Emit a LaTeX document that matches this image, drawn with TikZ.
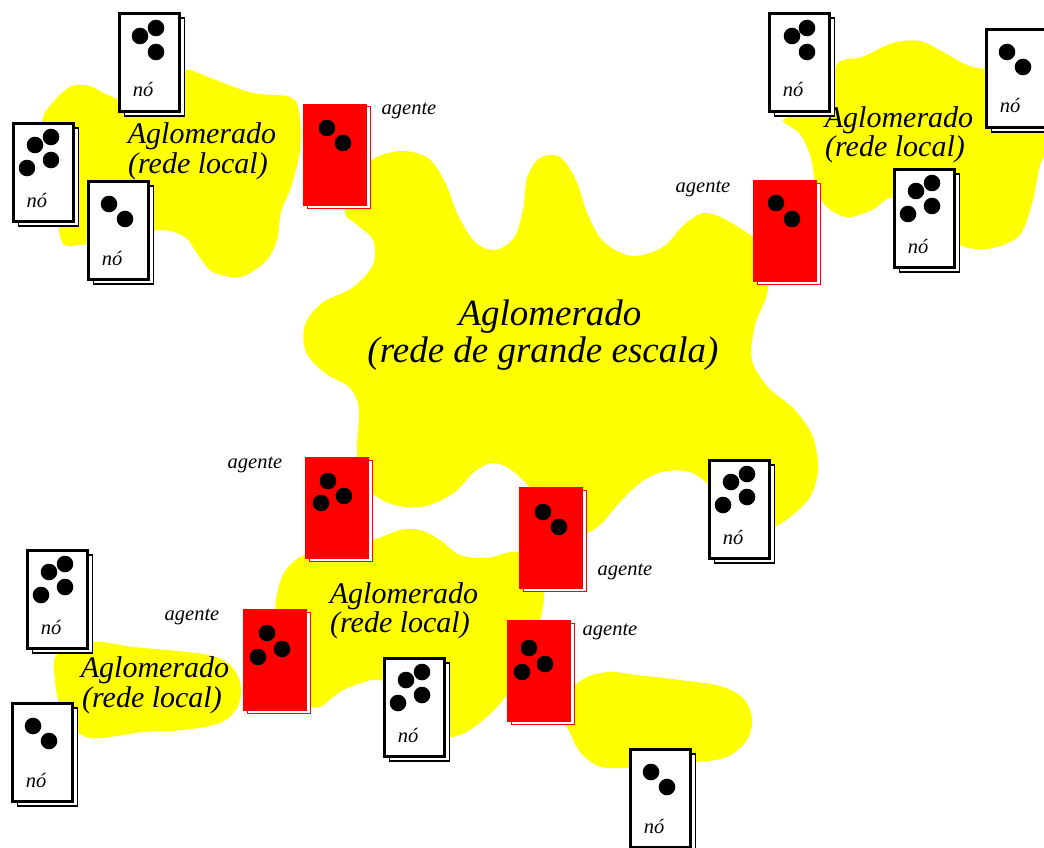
\documentclass[tikz,border=0pt]{standalone}
\usepackage{fontspec}
\setmainfont{Liberation Serif}
\usetikzlibrary{calc,shadows}
\definecolor{blobyellow}{RGB}{255,255,0}
\definecolor{agred}{RGB}{255,0,0}
\tikzset{
  blob/.style={fill=blobyellow, draw=none},
  nocard/.style={anchor=north west, draw=black, fill=white, line width=3.3pt,
    minimum width=59.7pt, minimum height=97.7pt, inner sep=0pt,
    copy shadow={shadow xshift=5pt, shadow yshift=-4.5pt, fill=white, draw=black, line width=1.4pt}},
  agcard/.style={anchor=north west, draw=agred, fill=agred, line width=0.8pt,
    minimum width=63.2pt, minimum height=101.2pt, inner sep=0pt,
    copy shadow={shadow xshift=3.5pt, shadow yshift=-2.5pt, fill=white, draw=agred, line width=0.8pt}},
  small/.style={font=\fontsize{20.5}{20.5}\selectfont\itshape, anchor=base, inner sep=0pt},
  cl/.style={font=\fontsize{30}{30}\selectfont\itshape, anchor=base, inner sep=0pt},
  big/.style={font=\fontsize{37}{37}\selectfont\itshape, anchor=base, inner sep=0pt},
  dot/.style={fill=black},
}
\newcommand\nodecard[4]{%
  \node[nocard] (#1) at (#2,#3) {};
  \foreach \ddx/\ddy in {#4} {\fill[dot] ($(#1.north west)+(\ddx,\ddy)$) circle[radius=8.3pt];}
  \node[small] (#1lbl) at ($(#1.north west)+(25,85)$) {nó};}
\newcommand\agentcard[4]{%
  \node[agcard] (#1) at (#2,#3) {};
  \foreach \ddx/\ddy in {#4} {\fill[dot] ($(#1.north west)+(\ddx,\ddy)$) circle[radius=8.3pt];}}
\begin{document}
\begin{tikzpicture}[x=1pt,y=-1pt]
\useasboundingbox (0,0) rectangle (1044,848);
% blobs
\fill[blob] plot[smooth cycle, tension=0.55] coordinates {(42,122) (55,100) (72,86) (90,86) (108,95) (130,100) (165,80) (187,70) (213,79) (253,93) (290,97) (299,112) (300,150) (291,187) (281,212) (277,240) (265,262) (240,277) (213,272) (198,255) (185,237) (160,230) (120,238) (80,245) (62,242) (55,200) (50,160)};
\fill[blob] plot[smooth cycle, tension=0.55] coordinates {(345,212) (355,178) (375,158) (402,151) (428,158) (445,182) (458,215) (475,242) (495,250) (514,238) (523,210) (527,178) (540,158) (560,157) (576,180) (588,215) (604,242) (632,256) (663,247) (685,224) (706,213) (735,225) (765,250) (768,290) (755,325) (752,360) (768,387) (795,410) (813,437) (818,470) (810,497) (790,517) (770,527) (740,515) (715,490) (690,472) (662,472) (640,483) (620,502) (600,525) (583,532) (555,510) (530,487) (510,469) (492,463) (474,472) (455,492) (430,505) (405,507) (380,499) (363,480) (357,450) (359,410) (350,388) (325,373) (306,352) (305,325) (322,303) (352,288) (373,265) (373,240) (356,224)};
\fill[blob] plot[smooth cycle, tension=0.55] coordinates {(783,120) (800,134) (811,158) (816,188) (828,208) (848,217) (872,210) (895,198) (930,230) (962,246) (985,249) (1006,244) (1022,232) (1033,200) (1040,165) (1050,140) (1050,75) (985,69) (965,64) (943,52) (920,41) (893,43) (862,57) (838,63) (828,95) (805,112)};
\fill[blob] plot[smooth cycle, tension=0.55] coordinates {(57,655) (93,642) (133,647) (177,651) (213,656) (233,668) (241,688) (237,708) (220,723) (183,730) (143,732) (110,737) (90,738) (73,729) (60,707) (55,680)};
\fill[blob] plot[smooth cycle, tension=0.55] coordinates {(276,600) (284,573) (302,556) (335,547) (373,540) (400,530) (420,530) (440,540) (460,555) (487,558) (517,552) (538,572) (544,598) (537,630) (520,675) (497,707) (470,730) (450,737) (430,731) (410,720) (383,681) (350,687) (333,697) (320,707) (305,703) (285,670) (276,630)};
\fill[blob] plot[smooth cycle, tension=0.55] coordinates {(560,700) (585,678) (610,672) (637,675) (680,680) (720,686) (743,698) (752,718) (747,740) (727,757) (697,762) (650,766) (620,768) (598,766) (580,752) (570,733) (562,715)};
% cluster labels
\node[cl] (tla) at (202,143) {Aglomerado};
\node[cl] (tlb) at (198,173) {(rede local)};
\node[cl] (tra) at (899,128) {Aglomerado};
\node[cl] (trb) at (895,157) {(rede local)};
\node[big] (cea) at (550,325) {Aglomerado};
\node[big] (ceb) at (543,362) {(rede de grande escala)};
\node[cl] (ma) at (404,603) {Aglomerado};
\node[cl] (mb) at (400,632) {(rede local)};
\node[cl] (bla) at (155,677) {Aglomerado};
\node[cl] (blb) at (152,707) {(rede local)};
% node cards
\nodecard{n1}{118}{12}{22/24,38/16,38/40}
\nodecard{n2}{12}{122}{23/23,39/15,39/38,15/46}
\nodecard{n3}{87}{180}{22/24,38/39}
\nodecard{nA}{768}{12}{24/24,39/16,39/40}
\nodecard{nB}{985}{28}{22/24,38/39}
\nodecard{nC}{893}{168}{23/23,39/15,39/38,15/46}
\nodecard{n4}{26}{549}{23/23,39/15,39/38,15/46}
\nodecard{n5}{11}{702}{22/24,38/39}
\nodecard{n6}{383}{657}{23/23,39/15,39/38,15/46}
\nodecard{n7}{708}{459}{23/23,39/15,39/38,15/46}
\nodecard{n8}{629}{748}{22/24,38/39}
% agent cards
\agentcard{a1}{303}{104}{24/24,40/39}
\agentcard{a2}{753}{180}{23/23,39/39}
\agentcard{a3}{305}{457}{23/24,39/39,16/46}
\agentcard{a4}{243}{609}{24/24,39/40,15/48}
\agentcard{a5}{519}{487}{24/25,40/40}
\agentcard{a6}{507}{620}{22/28,38/44,15/52}
\node[small] (a1lbl) at (409,115) {agente};
\node[small] (a2lbl) at (703,192) {agente};
\node[small] (a3lbl) at (255,468) {agente};
\node[small] (a4lbl) at (192,620) {agente};
\node[small] (a5lbl) at (625,575) {agente};
\node[small] (a6lbl) at (610,635) {agente};
\end{tikzpicture}
\end{document}
